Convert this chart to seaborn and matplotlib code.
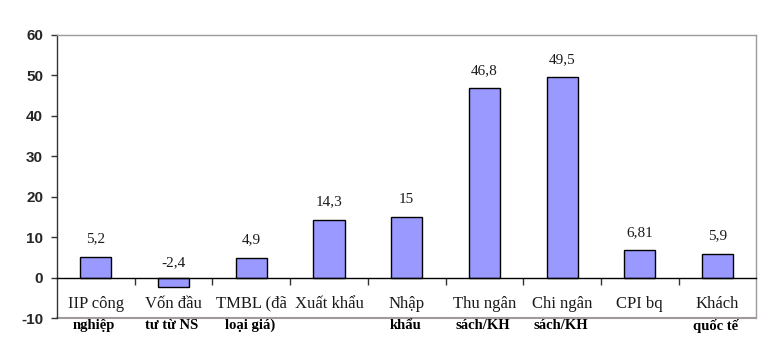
import matplotlib
matplotlib.use("Agg")
import matplotlib.pyplot as plt
import matplotlib.transforms as mtransforms
import seaborn as sns
import pandas as pd

categories = ["IIP công", "Vốn đầu", "TMBL (đã", "Xuất khẩu", "Nhập",
              "Thu ngân", "Chi ngân", "CPI bq", "Khách"]
second_lines = ["nghiệp", "tư từ NS", "loại giá)", "", "khẩu",
                "sách/KH", "sách/KH", "", "quốc tế"]
values = [5.2, -2.4, 4.9, 14.3, 15, 46.8, 49.5, 6.81, 5.9]
value_labels = ["5,2", "-2,4", "4,9", "14,3", "15", "46,8", "49,5", "6,81", "5,9"]
yticks = [-10, 0, 10, 20, 30, 40, 50, 60]

sns.set_style("white")
plt.rcParams['font.family'] = ['Liberation Serif', 'DejaVu Serif']

df = pd.DataFrame({"cat": categories, "val": values})

fig = plt.figure(figsize=(7.77, 3.56), dpi=100)
ax = fig.add_axes([0.0734, 0.1067, 0.9, 0.795])

sns.barplot(data=df, x="cat", y="val", order=categories, color="#9999FF",
            saturation=1, edgecolor="black", linewidth=1.0, width=0.4, ax=ax)

ax.set_ylim(-10, 60)
ax.set_xlim(-0.5, len(categories) - 0.5)
ax.set_yticks(yticks)
ax.set_yticklabels([str(t) for t in yticks], fontfamily='Liberation Sans',
                   fontweight='bold', fontsize=11)
ax.set_xlabel("")
ax.set_ylabel("")

# spines
for s in ["top", "right"]:
    ax.spines[s].set_visible(True)
    ax.spines[s].set_color("#a09a9a")
    ax.spines[s].set_linewidth(1.0)
ax.spines["left"].set_color("#333333")
ax.spines["left"].set_linewidth(1.0)
ax.spines["bottom"].set_position(("data", 0))
ax.spines["bottom"].set_color("black")
ax.spines["bottom"].set_linewidth(1.0)
ax.axhline(-10, color="#a09a9a", lw=1.5, clip_on=False, zorder=0)

ax.tick_params(axis="y", which="major", left=True, length=4, width=1,
               color="#333333", pad=6)
ax.tick_params(axis="x", which="major", bottom=True, length=0, pad=13,
               labelsize=12)
ax.set_xticks(range(len(categories)))
ax.set_xticklabels(categories, fontsize=12, color="#1a1a1a")
ax.set_xticks([i + 0.5 for i in range(len(categories) - 1)], minor=True)
ax.tick_params(axis="x", which="minor", bottom=True, length=5, width=1,
               color="#333333", direction="out")

# value labels
for i, (v, lab) in enumerate(zip(values, value_labels)):
    base = max(v, 0)
    off = 8 if v >= 0 else 6
    ax.annotate(lab, (i, base), xytext=(0, off), textcoords="offset points",
                ha="center", va="bottom", fontsize=11, color="#1a1a1a")

# second line of category labels (bold)
trans = mtransforms.blended_transform_factory(ax.transData, ax.transAxes)
for i, s in enumerate(second_lines):
    if s:
        ax.text(i - 0.02, -0.027, s, transform=trans, ha="center", va="center",
                fontsize=10.5, fontweight="bold", color="black",
                family=['Liberation Serif', 'DejaVu Serif'])

fig.savefig("out.png", dpi=100)
